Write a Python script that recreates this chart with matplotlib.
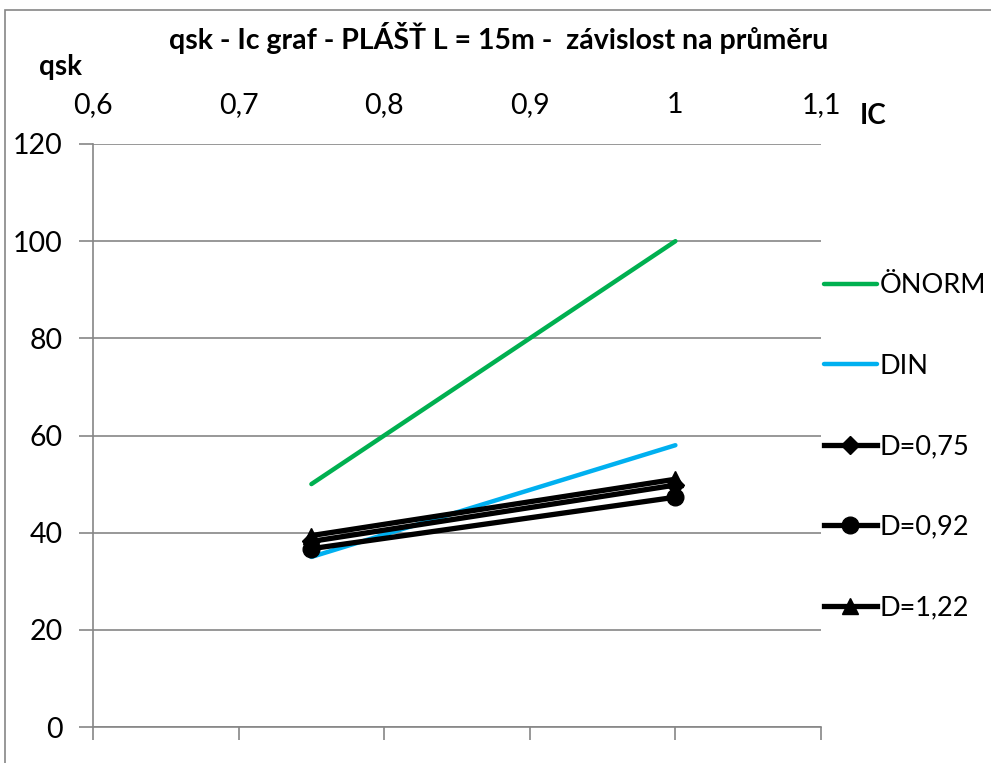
import matplotlib
matplotlib.use("Agg")
import matplotlib.pyplot as plt
from matplotlib.patches import Rectangle

# Data
ic = [0.75, 1.0]
onorm = [50, 100]
din = [35, 58]
d075 = [38.2, 49.8]
d092 = [36.7, 47.3]
d122 = [39.4, 51.0]

x_ticks = [0.6, 0.7, 0.8, 0.9, 1.0, 1.1]
x_tick_labels = ["0,6", "0,7", "0,8", "0,9", "1", "1,1"]
y_ticks = [0, 20, 40, 60, 80, 100, 120]

title = "qsk - Ic graf - PLÁŠŤ L = 15m -  závislost na průměru"

plt.rcParams["font.family"] = ["Lato", "DejaVu Sans"]
grey = "#868686"

fig = plt.figure(figsize=(9.91, 7.63), dpi=100)
fig.patches.append(Rectangle((5 / 991, -0.05), 1.2, 1 - 10 / 763 + 0.05,
                             transform=fig.transFigure, fill=False,
                             edgecolor=grey, linewidth=1.2, zorder=0))

ax = fig.add_axes([93 / 991, 1 - 727 / 763, (821 - 93) / 991, (727 - 144) / 763])

ax.plot(ic, onorm, color="#00B050", lw=3.2, solid_capstyle="round", label="ÖNORM")
ax.plot(ic, din, color="#00B0F0", lw=3.2, solid_capstyle="round", label="DIN")
ax.plot(ic, d075, color="black", lw=3.8, marker="D", ms=9, label="D=0,75")
ax.plot(ic, d092, color="black", lw=3.8, marker="o", ms=12, label="D=0,92")
ax.plot(ic, d122, color="black", lw=3.8, marker="^", ms=12, label="D=1,22")

ax.set_xlim(0.6, 1.1)
ax.set_ylim(0, 120)
ax.set_xticks(x_ticks)
ax.set_xticklabels(x_tick_labels)
ax.set_yticks(y_ticks)

ax.yaxis.grid(True, color=grey, lw=1.2)
ax.set_axisbelow(True)
for s in ["top", "right"]:
    ax.spines[s].set_visible(False)
for s in ["left", "bottom"]:
    ax.spines[s].set_color(grey)
    ax.spines[s].set_linewidth(1.2)

ax.tick_params(axis="x", which="both", bottom=True, top=False,
               labelbottom=False, labeltop=True, direction="out",
               length=9, width=1.2, color=grey, labelsize=20.5, pad=10)
ax.tick_params(axis="y", direction="out", length=10, width=1.2,
               color=grey, labelsize=20.5, pad=12)

fig.text(499 / 991, 1 - 38 / 763, title, ha="center", va="center",
         fontsize=20.5, fontweight="bold")
fig.text(60 / 991, 1 - 67 / 763, "qsk", ha="center", va="center",
         fontsize=20, fontweight="bold")
fig.text(873 / 991, 1 - 116 / 763, "IC", ha="center", va="center",
         fontsize=20, fontweight="bold")

leg = ax.legend(loc="center left", bbox_to_anchor=(0.989, 0.481),
                frameon=False, fontsize=19.5, handlelength=1.95,
                handletextpad=0.1, labelspacing=2.05, borderaxespad=0.0)

fig.savefig("out.png", dpi=100)
